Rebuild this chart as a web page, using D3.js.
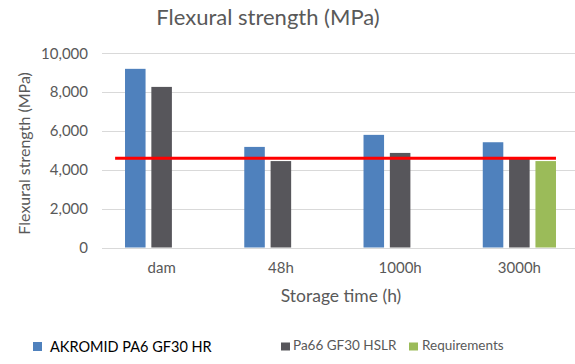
<!DOCTYPE html>
<html>
<head>
<meta charset="utf-8">
<script src="https://cdn.jsdelivr.net/npm/d3@7"></script>
<style>
  html, body { margin: 0; padding: 0; background: #fff; }
  svg text { font-family: Lato, "Open Sans", sans-serif; }
</style>
</head>
<body>
<svg id="chart" width="575" height="364"></svg>
<script>
const categories = ["dam", "48h", "1000h", "3000h"];
const seriesNames = ["AKROMID PA6 GF30 HR", "Pa66 GF30 HSLR", "Requirements"];
const akromid = [9200, 5180, 5800, 5420];
const pa66 = [8270, 4450, 4870, 4560];
const requirements = [null, null, null, 4450];
const requirementLevel = 4600;
const yTicks = [0, 2000, 4000, 6000, 8000, 10000];
const colors = ["#4F81BD", "#57565B", "#9BBB59"];

const svg = d3.select("#chart");
const plot = { left: 102, right: 579, top: 53.3, bottom: 247.5 };

const x = d3.scaleBand().domain(categories).range([plot.left, plot.right]).paddingInner(0).paddingOuter(0);
const inner = d3.scaleBand().domain(seriesNames).range([x.bandwidth() * 0.193, x.bandwidth() * 0.807]).paddingInner(0.22);
const y = d3.scaleLinear().domain([0, 10000]).range([plot.bottom, plot.top]);

// title
const title = svg.append("text").attr("x", 268).attr("y", 25).attr("text-anchor", "middle")
  .attr("font-size", 22).attr("fill", "#595959").text("Flexural strength (MPa)");

// gridlines
svg.append("g").selectAll("line").data(yTicks).join("line")
  .attr("x1", plot.left).attr("x2", 575)
  .attr("y1", d => Math.round(y(d)) + 0.5).attr("y2", d => Math.round(y(d)) + 0.5)
  .attr("stroke", "#D9D9D9").attr("stroke-width", 1);

// y axis labels
const yAxis = d3.axisLeft(y).tickValues(yTicks).tickFormat(d3.format(",")).tickSize(0).tickPadding(14);
const gy = svg.append("g").attr("transform", `translate(${plot.left},0)`).call(yAxis);
gy.select(".domain").remove();
gy.selectAll("text").attr("font-size", 15).attr("fill", "#595959").style("font-family", "Lato");

// x axis labels
const xAxis = d3.axisBottom(x).tickSize(0).tickPadding(15);
const gx = svg.append("g").attr("transform", `translate(0,${plot.bottom})`).call(xAxis);
gx.select(".domain").remove();
gx.selectAll("text").attr("font-size", 15).attr("fill", "#595959").style("font-family", "Lato");

// bars
const seriesData = [akromid, pa66, requirements];
seriesData.forEach((vals, si) => {
  svg.append("g").selectAll("rect")
    .data(vals.map((v, i) => ({ cat: categories[i], v })).filter(d => d.v != null))
    .join("rect")
    .attr("x", d => x(d.cat) + inner(seriesNames[si]))
    .attr("width", inner.bandwidth())
    .attr("y", d => y(d.v))
    .attr("height", d => y(0) - y(d.v))
    .attr("fill", colors[si]);
});

// requirement line
const lineStart = x(categories[0]) + x.bandwidth() * 0.11;
const lineEnd = x(categories[3]) + inner(seriesNames[2]) + inner.bandwidth();
svg.append("line")
  .attr("x1", lineStart).attr("x2", lineEnd)
  .attr("y1", y(requirementLevel)).attr("y2", y(requirementLevel))
  .attr("stroke", "#FF0000").attr("stroke-width", 3);

// axis titles
svg.append("text").attr("transform", `translate(30,${(plot.top + plot.bottom) / 2 + 3}) rotate(-90)`)
  .attr("text-anchor", "middle").attr("font-size", 16).attr("fill", "#595959")
  .text("Flexural strength (MPa)");
svg.append("text").attr("x", 341).attr("y", 302).attr("text-anchor", "middle")
  .attr("font-size", 17.5).attr("fill", "#595959").text("Storage time (h)");

// legend
const legendItems = [
  { name: seriesNames[0], color: colors[0], sx: 33, sy: 342, h: 9, tx: 50, ty: 352, fill: "#000000", fs: 14.5 },
  { name: seriesNames[1], color: colors[1], sx: 281, sy: 342.5, h: 8, tx: 293, ty: 350, fill: "#595959", fs: 13.5 },
  { name: seriesNames[2], color: colors[2], sx: 409, sy: 342.5, h: 8, tx: 422, ty: 350, fill: "#595959", fs: 13.5 }
];
const lg = svg.append("g");
legendItems.forEach(it => {
  lg.append("rect").attr("x", it.sx).attr("y", it.sy).attr("width", 9).attr("height", it.h).attr("fill", it.color);
  lg.append("text").attr("x", it.tx).attr("y", it.ty).attr("font-size", it.fs).attr("fill", it.fill).text(it.name);
});
</script>
</body>
</html>
